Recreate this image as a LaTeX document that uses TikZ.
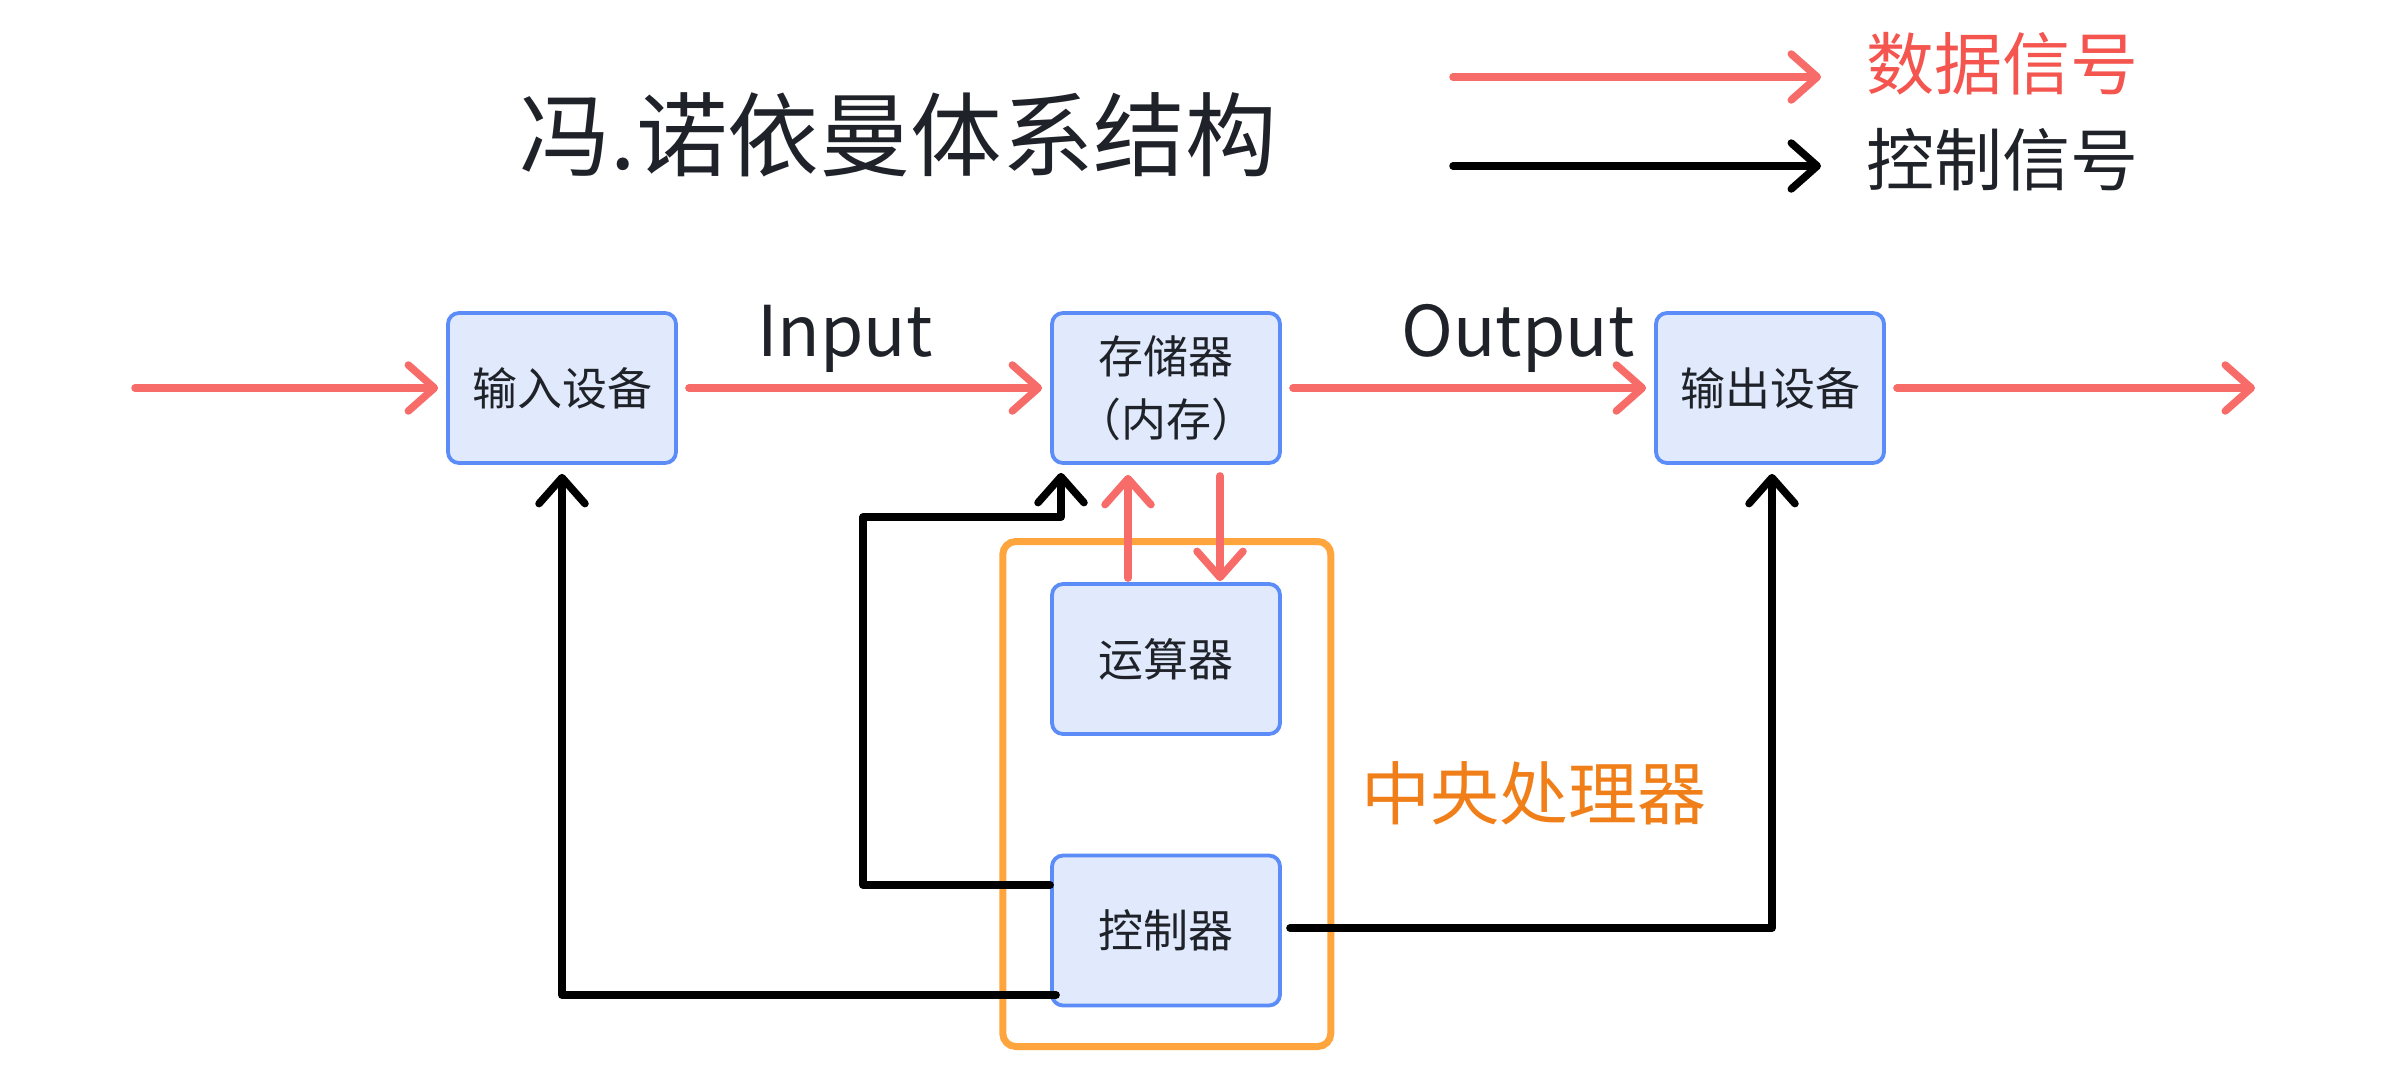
\documentclass[tikz,border=0pt]{standalone}
\usepackage{fontspec}
\setmainfont{Noto Sans CJK SC}
\usetikzlibrary{arrows.meta}
\definecolor{datared}{HTML}{F76C68}
\definecolor{legred}{HTML}{F4554F}
\definecolor{boxblue}{HTML}{5B8CF7}
\definecolor{boxfill}{HTML}{E1EAFD}
\definecolor{cpuorange}{HTML}{FFA53D}
\definecolor{cputext}{HTML}{F07F1A}
\definecolor{textdark}{HTML}{1F2329}
\tikzset{
  unitbox/.style={draw=boxblue, fill=boxfill, line width=3.8pt, rounded corners=11pt,
    minimum width=228pt, minimum height=150pt, inner sep=0pt, align=center,
    text=textdark, font=\fontsize{45pt}{63pt}\selectfont},
  tipshape/.style={-{Straight Barb[length=26pt,width=46pt,line cap=round,line join=round]}},
  dataline/.style={draw=datared, line width=7.5pt, line cap=round, line join=round, tipshape},
  ctrlline/.style={draw=black, line width=7.5pt, line cap=round, line join=round, tipshape},
}
\begin{document}
\begin{tikzpicture}[x=1pt,y=-1pt]
\useasboundingbox (0,0) rectangle (2404,1076);
\fill[white] (0,0) rectangle (2404,1076);

% title
\node[text=textdark, font=\fontsize{91.5pt}{100pt}\selectfont, inner sep=0pt] (title) at (898,135) {冯.诺依曼体系结构};

% legend
\coordinate (l1s) at (1453,77);
\coordinate (l1e) at (1821,77);
\coordinate (l2s) at (1453,166);
\coordinate (l2e) at (1821,166);
\draw[dataline] (l1s) -- (l1e);
\draw[ctrlline] (l2s) -- (l2e);
\node[anchor=west, inner sep=0pt, text=legred, font=\fontsize{68pt}{72pt}\selectfont] (legdata) at (1866,64) {数据信号};
\node[anchor=west, inner sep=0pt, text=textdark, font=\fontsize{68pt}{72pt}\selectfont] (legctrl) at (1866,160) {控制信号};

% CPU frame
\node[draw=cpuorange, line width=7pt, rounded corners=13pt, minimum width=328pt, minimum height=505pt, inner sep=0pt] (cpu) at (1166.8,794) {};
\node[anchor=west, inner sep=0pt, text=cputext, font=\fontsize{69pt}{72pt}\selectfont] (cpulabel) at (1361,793) {中央处理器};

% boxes
\node[unitbox] (in) at (562,388) {输入设备};
\node[unitbox] (mem) at (1166,388) {存储器\\（内存）};
\node[unitbox] (out) at (1770,388) {输出设备};
\node[unitbox] (alu) at (1166,659) {运算器};
\node[unitbox] (ctl) at (1166,930.5) {控制器};

% data flow
\coordinate (src) at (135,388);
\coordinate (snk) at (2255,388);
\draw[dataline, shorten >=8pt] (src) -- (in.west);
\draw[dataline, shorten <=11pt, shorten >=8pt] (in.east) -- (mem.west);
\draw[dataline, shorten <=11pt, shorten >=8pt] (mem.east) -- (out.west);
\draw[dataline, shorten <=11pt] (out.east) -- (snk);
\node[anchor=base, inner sep=0pt, text=textdark, font=\fontsize{70pt}{80pt}\selectfont] (inlabel) at (845,356) {Input};
\node[anchor=base, inner sep=0pt, text=textdark, font=\fontsize{70pt}{80pt}\selectfont] (outlabel) at (1518,356) {Output};

\draw[dataline, shorten <=4pt, shorten >=10pt] ([xshift=-38pt]alu.north) -- ([xshift=-38pt]mem.south);
\draw[dataline, shorten <=11pt, shorten >=1pt] ([xshift=54pt]mem.south) -- ([xshift=54pt]alu.north);

% control flow
\coordinate (b1) at (863,885);
\coordinate (b2) at (863,517);
\coordinate (b3) at (1061,517);
\draw[ctrlline, shorten >=8pt] ([yshift=45.5pt]ctl.west) -- (b1) -- (b2) -- (b3) -- ([xshift=-105pt]mem.south);
\draw[ctrlline, shorten >=9pt] ([yshift=-64.5pt,xshift=6pt]ctl.west) -| (in.south);
\draw[ctrlline, shorten <=8pt, shorten >=9pt] ([yshift=2.5pt]ctl.east) -| ([xshift=2pt]out.south);
\end{tikzpicture}
\end{document}
